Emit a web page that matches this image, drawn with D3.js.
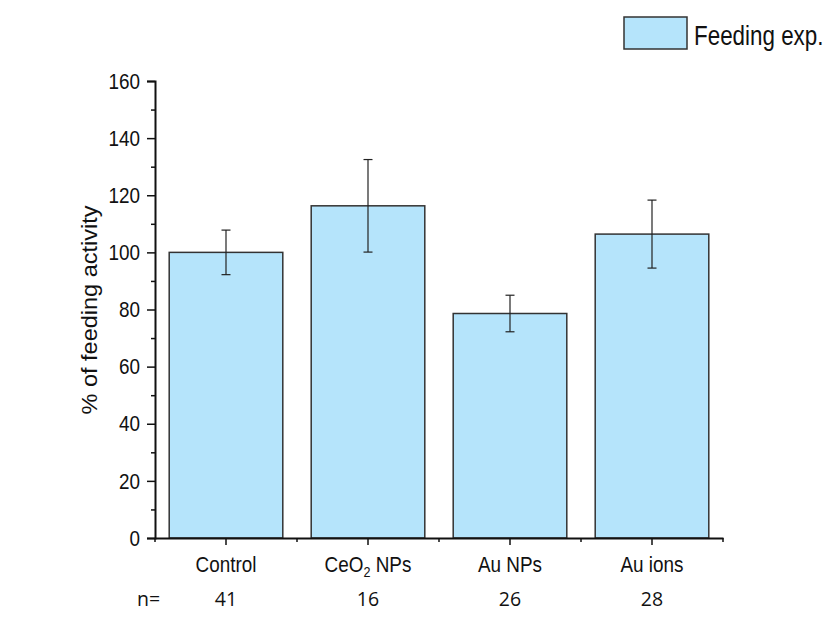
<!DOCTYPE html>
<html><head><meta charset="utf-8">
<script src="https://cdn.jsdelivr.net/npm/d3@7"></script>
<style>body{margin:0;background:#fff}</style>
</head><body>
<svg id="c" width="825" height="619"></svg>
<script>
const categories = ["Control", "CeO2 NPs", "Au NPs", "Au ions"];
const values = [100, 116.3, 78.6, 106.4];
const errors = [7.8, 16.2, 6.4, 11.9];
const nCounts = ["41", "16", "26", "28"];
const yMajorTicks = [0, 20, 40, 60, 80, 100, 120, 140, 160];
const yMinorTicks = [10, 30, 50, 70, 90, 110, 130, 150];
const yLabel = "% of feeding activity";
const legendLabel = "Feeding exp.";

const svg = d3.select("#c");
const FONT = "'Liberation Sans', Arial, sans-serif";
const SX = 0.84;
const fill = "#b5e4fb", stroke = "#333";

const x = d3.scaleBand().domain(categories).range([155, 723]).padding(0);
const y = d3.scaleLinear().domain([0, 160]).range([538, 81]);
const bw = x.bandwidth() * 0.8;

// bars
svg.append("g").selectAll("rect").data(categories).join("rect")
  .attr("x", d => x(d) + (x.bandwidth() - bw) / 2)
  .attr("width", bw)
  .attr("y", (d, i) => y(values[i]))
  .attr("height", (d, i) => y(0) - y(values[i]))
  .attr("fill", fill).attr("stroke", stroke).attr("stroke-width", 1.5);

// error bars
const eg = svg.append("g").attr("stroke", "#222").attr("stroke-width", 1.2);
categories.forEach((c, i) => {
  const cx = x(c) + x.bandwidth() / 2;
  const t = y(values[i] + errors[i]), b = y(values[i] - errors[i]);
  eg.append("line").attr("x1", cx).attr("x2", cx).attr("y1", t).attr("y2", b);
  eg.append("line").attr("x1", cx - 4.5).attr("x2", cx + 4.5).attr("y1", t).attr("y2", t);
  eg.append("line").attr("x1", cx - 4.5).attr("x2", cx + 4.5).attr("y1", b).attr("y2", b);
});

// y axis
const yAx = svg.append("g").attr("transform", "translate(155,0)")
  .call(d3.axisLeft(y).tickValues(yMajorTicks).tickSize(8).tickPadding(7).tickFormat(d3.format("d")));
yAx.selectAll("text").attr("font-family", FONT).attr("font-size", 22.5).attr("fill", "#111")
  .attr("transform", `scale(${SX},1)`).attr("x", -15 / SX);
svg.append("g").attr("transform", "translate(155,0)")
  .call(d3.axisLeft(y).tickValues(yMinorTicks).tickSize(4).tickFormat(""))
  .select(".domain").remove();

// x axis
const xAx = svg.append("g").attr("transform", "translate(0,538)")
  .call(d3.axisBottom(x).tickSize(7).tickSizeOuter(0).tickFormat(""));
// minor ticks at band edges
const edges = categories.map(c => x(c)).concat([x.range()[1]]);
svg.append("g").selectAll("line").data(edges).join("line")
  .attr("x1", d => d).attr("x2", d => d).attr("y1", 538).attr("y2", 542)
  .attr("stroke", "#111").attr("stroke-width", 1.5);

[yAx, xAx].forEach(a => {
  a.select(".domain").attr("stroke", "#111").attr("stroke-width", 2);
});
svg.selectAll("g .tick line").attr("stroke", "#111").attr("stroke-width", 1.5);

// category labels with subscript
const lg = svg.append("g").attr("font-family", FONT).attr("font-size", 22.5).attr("fill", "#111");
categories.forEach(c => {
  const cx = x(c) + x.bandwidth() / 2;
  const t = lg.append("text").attr("text-anchor", "middle")
    .attr("transform", `translate(${cx},572) scale(${SX},1)`);
  const parts = c.split(/(\d)/).filter(s => s.length);
  parts.forEach(p => {
    if (/^\d$/.test(p)) {
      t.append("tspan").attr("font-size", 15).attr("dy", 5).text(p);
    } else {
      const ts = t.append("tspan").text(p);
      if (t.selectAll("tspan").size() > 1) ts.attr("dy", -5);
    }
  });
});

// n= row
const ng = svg.append("g").attr("font-family", "'Open Sans', 'Noto Sans', sans-serif")
  .attr("font-size", 19.5).attr("fill", "#111");
ng.append("text").attr("x", 137).attr("y", 606).text("n=");
categories.forEach((c, i) => {
  ng.append("text").attr("text-anchor", "middle")
    .attr("x", x(c) + x.bandwidth() / 2).attr("y", 606).text(nCounts[i]);
});

// y label
svg.append("text").attr("font-family", FONT).attr("font-size", 23.5).attr("fill", "#111")
  .attr("text-anchor", "middle")
  .attr("transform", `translate(97,310) rotate(-90) scale(1,0.92)`)
  .text(yLabel);

// legend
svg.append("rect").attr("x", 624).attr("y", 17).attr("width", 63).attr("height", 32)
  .attr("fill", fill).attr("stroke", stroke).attr("stroke-width", 1.5);
svg.append("text").attr("font-family", FONT).attr("font-size", 28).attr("fill", "#111")
  .attr("transform", `translate(694,45) scale(0.8,1)`).text(legendLabel);
</script>
</body></html>
